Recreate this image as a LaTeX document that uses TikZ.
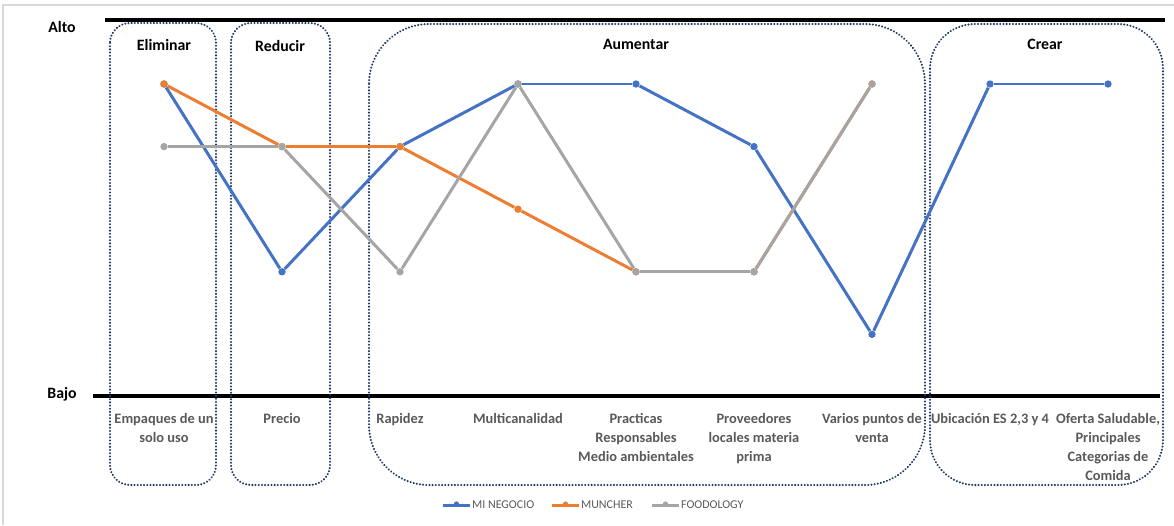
\documentclass[tikz,border=0pt]{standalone}
\usepackage{fontspec}
\setmainfont{Carlito}
\usepackage{xcolor}
\usetikzlibrary{positioning}
\definecolor{negocio}{HTML}{4472C4}
\definecolor{muncher}{HTML}{ED7D31}
\definecolor{foodology}{HTML}{A5A5A5}
\definecolor{caja}{HTML}{203864}
\definecolor{etiq}{HTML}{595959}
\tikzset{dot/.style = {circle,fill,inner sep=0pt,minimum size=4.2pt},
         serie/.style = {line width=1.7pt},
         zona/.style = {draw=caja,line width=1.3pt,dash pattern=on 0.01pt off 1.8pt,line cap=round},
         titulo/.style = {font=\fontsize{9}{11}\selectfont\bfseries},
         categ/.style = {anchor=north,inner sep=0pt,align=center,text=etiq,font=\fontsize{8.2}{10.8}\selectfont\bfseries},
         leyenda/.style = {inner sep=0pt,text=etiq,font=\fontsize{6.8}{8}\selectfont}}

\begin{document}
\begin{tikzpicture}[x=0.02cm,y=-0.02cm]
    \useasboundingbox (0,0) rectangle (1174,525);
    \draw[black!15,line width=0.8pt] (3,525) -- (3,5) -- (1174,5);

    % ejes
    \node[titulo] (alto) at (62,27) {Alto};
    \node[titulo] (bajo) at (62,394) {Bajo};
    \coordinate (ta) at (105,20);
    \coordinate (tb) at (1165,20);
    \coordinate (ba) at (93,396);
    \coordinate (bb) at (1160,396);
    \draw[line width=2.4pt] (ta) -- (tb);
    \draw[line width=2.4pt] (ba) -- (bb);

    % zonas
    \draw[zona,rounded corners=0.4cm] (110,23) rectangle (216,485);
    \draw[zona,rounded corners=0.4cm] (231,23) rectangle (330,485);
    \draw[zona,rounded corners=1.2cm] (369,24) rectangle (925,485);
    \draw[zona,rounded corners=0.9cm] (930,24) rectangle (1163,485);
    \node[titulo] (eliminar) at (164,45) {Eliminar};
    \node[titulo] (reducir) at (280,46) {Reducir};
    \node[titulo] (aumentar) at (636,44) {Aumentar};
    \node[titulo] (crear) at (1045,44) {Crear};

    % categorias
    \foreach \t [count=\i] in {{Empaques de un\\solo uso},{Precio},{Rapidez},{Multicanalidad},
            {Practicas\\Responsables\\Medio ambientales},{Proveedores\\locales materia\\prima},
            {Varios puntos de\\venta},{Ubicación ES 2,3 y 4},{Oferta Saludable,\\Principales\\Categorias de\\Comida}} {
        \node[categ] (cat\i) at ({164+118*(\i-1)},413) {\t};
    }

    % series
    \foreach \v [count=\i] in {5,2,4,5,5,4,1,5,5} {
        \node[dot,fill=negocio] (b\i) at ({164+118*(\i-1)},{397-62.6*\v}) {};
    }
    \foreach \i [count=\j from 2] in {1,...,8}
        \draw[serie,negocio] (b\i) -- (b\j);

    \foreach \v [count=\i] in {5,4,4,3,2,2,5} {
        \node[dot,fill=muncher] (m\i) at ({164+118*(\i-1)},{397-62.6*\v}) {};
    }
    \foreach \i [count=\j from 2] in {1,...,6}
        \draw[serie,muncher] (m\i) -- (m\j);

    \foreach \v [count=\i] in {4,4,2,5,2,2,5} {
        \node[dot,fill=foodology] (f\i) at ({164+118*(\i-1)},{397-62.6*\v}) {};
    }
    \foreach \i [count=\j from 2] in {1,...,6}
        \draw[serie,foodology] (f\i) -- (f\j);

    % leyenda
    \foreach \c/\t/\x in {negocio/MI NEGOCIO/443,muncher/MUNCHER/552,foodology/FOODOLOGY/652} {
        \coordinate (l\c a) at (\x,505);
        \coordinate (l\c b) at (\x+27,505);
        \draw[serie,\c] (l\c a) -- (l\c b);
        \node[dot,fill=\c,minimum size=3pt] (l\c) at (\x+13.5,504) {};
        \node[leyenda,right=1pt of l\c b] (t\c) {\t};
    }
\end{tikzpicture}
\end{document}
